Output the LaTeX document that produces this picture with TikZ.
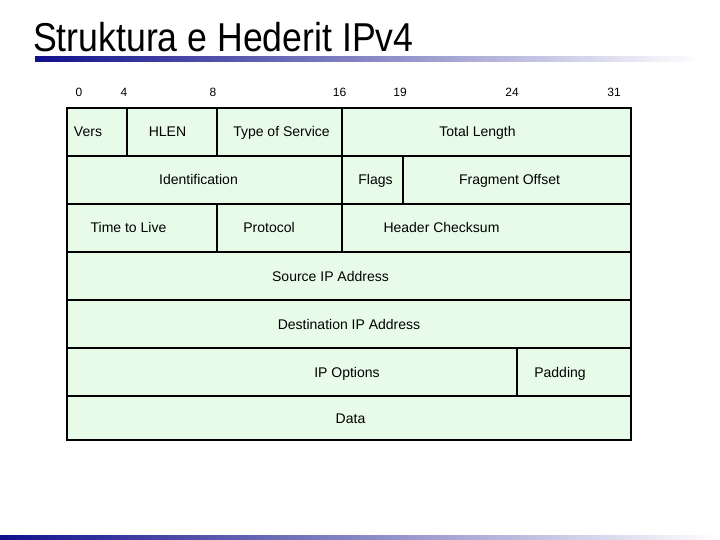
\documentclass[tikz,border=0pt]{standalone}
\usepackage{graphicx}
\usepackage{fontspec}
\setmainfont{Liberation Sans}
\definecolor{cellgreen}{RGB}{232,251,232}
\definecolor{barblue}{RGB}{16,16,140}
\begin{document}
\begin{tikzpicture}[x=1pt,y=-1pt,
  cell/.style={anchor=base, inner sep=0pt, font=\fontsize{14}{16}\selectfont},
  bit/.style={inner sep=0pt, font=\fontsize{12}{14}\selectfont},
  rule/.style={line width=2pt}]
  \useasboundingbox (0,0) rectangle (720,540);
  % Titulli
  \node[anchor=base west, inner sep=0pt, font=\fontsize{36}{40}\selectfont] (title) at (33,52) {\scalebox{0.99}[1.12]{Struktura e Hederit IPv4}};
  % vijat me gradient
  \shade[left color=barblue, right color=white] (35,57) rectangle (700,62);
  \shade[left color=barblue, right color=white] (0,535) rectangle (720,540);
  % numrat e biteve
  \foreach \b/\x in {0/79,4/124,8/213,16/339.5,19/400,24/512,31/614}
    \node[bit] (bit\b) at (\x,92.5) {\b};
  % korniza e tabeles
  \filldraw[fill=cellgreen, rule] (67,108) rectangle (631,440);
  \foreach \y in {156,204,252,300,348,396}
    \draw[rule] (67,\y) -- (631,\y);
  % ndarjet vertikale
  \draw[rule] (127,108) -- (127,156);
  \draw[rule] (217,108) -- (217,156);
  \draw[rule] (342,108) -- (342,156);
  \draw[rule] (342,156) -- (342,204);
  \draw[rule] (403,156) -- (403,204);
  \draw[rule] (217,204) -- (217,252);
  \draw[rule] (342,204) -- (342,252);
  \draw[rule] (517,348) -- (517,396);
  % rreshti 1
  \node[cell] (vers) at (88,137) {Vers};
  \node[cell] (hlen) at (167.5,137) {HLEN};
  \node[cell] (tos) at (281.5,137) {Type of Service};
  \node[cell] (totlen) at (477.5,137) {Total Length};
  % rreshti 2
  \node[cell] (ident) at (198.5,185) {Identification};
  \node[cell] (flags) at (375.5,185) {Flags};
  \node[cell] (fragoff) at (509.5,185) {Fragment Offset};
  % rreshti 3
  \node[cell] (ttl) at (128.5,233) {Time to Live};
  \node[cell] (proto) at (269,233) {Protocol};
  \node[cell] (checksum) at (441.5,233) {Header Checksum};
  % adresat
  \node[cell] (srcip) at (330.5,281) {Source IP Address};
  \node[cell] (dstip) at (349,329) {Destination IP Address};
  % opsionet dhe te dhenat
  \node[cell] (options) at (347,377) {IP Options};
  \node[cell] (padding) at (560,377) {Padding};
  \node[cell] (data) at (350.5,423) {Data};
\end{tikzpicture}
\end{document}
